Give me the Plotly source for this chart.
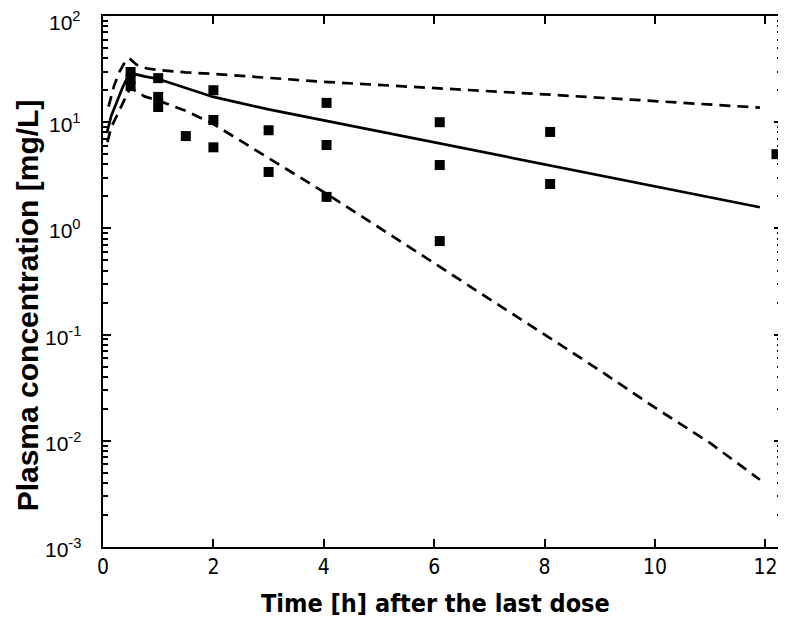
import math
import plotly.graph_objects as go

# Observed concentrations (squares)
t_obs = [0.5, 0.5, 0.5, 1, 1, 1, 1.5, 2, 2, 2, 3, 3, 4.05, 4.05, 4.05, 6.1, 6.1, 6.1, 8.1, 8.1, 12.2]
c_obs = [29.7, 25.4, 21.9, 26, 17.3, 13.9, 7.4, 20, 10.5, 5.8, 8.4, 3.4, 15.2, 6.1, 1.98, 10, 3.95, 0.76, 8.1, 2.62, 5.0]

# Median prediction (solid)
t_med = [0.07, 0.15, 0.25, 0.35, 0.45, 0.5, 0.75, 1, 2, 3, 4, 5, 6, 7, 8, 9, 10, 11, 11.9]
c_med = [7.9, 11.5, 15.5, 21, 27, 29, 27, 25.5, 17.3, 13.2, 10.4, 8.2, 6.4, 5.1, 4.0, 3.15, 2.5, 1.98, 1.58]

# Upper bound (dashed)
t_up = [0.1, 0.2, 0.3, 0.4, 0.48, 0.6, 0.8, 1, 1.5, 2, 4, 6, 8, 10, 11.9]
c_up = [14, 22, 30, 37, 40, 35, 32, 31, 29.5, 28.5, 24, 21, 18.3, 15.8, 13.7]

# Lower bound (dashed)
t_lo = [0.08, 0.15, 0.25, 0.35, 0.45, 0.5, 0.75, 1, 1.5, 2, 3, 4, 5, 6, 7, 8, 9, 10, 11, 11.9]
c_lo = [6.5, 9, 11.5, 15, 19, 21, 17.5, 16, 12.8, 9.6, 4.6, 2.2, 1.02, 0.47, 0.215, 0.098, 0.046, 0.0205, 0.0095, 0.0043]

x_tickvals = [0, 2, 4, 6, 8, 10, 12]
y_tickvals = [1e-3, 1e-2, 1e-1, 1, 10, 100]
y_ticktext = ["10<sup>-3</sup>", "10<sup>-2</sup>", "10<sup>-1</sup>", "10<sup>0</sup>", "10<sup>1</sup>", "10<sup>2</sup>"]

narrow = "DejaVu Sans Condensed, Liberation Sans Narrow, Arial Narrow, Arial"

fig = go.Figure()

dash_style = "11px,7px"
fig.add_trace(go.Scatter(x=t_up, y=c_up, mode="lines",
                         line=dict(color="black", width=2.7, dash=dash_style), showlegend=False))
fig.add_trace(go.Scatter(x=t_lo, y=c_lo, mode="lines",
                         line=dict(color="black", width=2.7, dash=dash_style), showlegend=False))
fig.add_trace(go.Scatter(x=t_med, y=c_med, mode="lines",
                         line=dict(color="black", width=2.7), showlegend=False))
fig.add_trace(go.Scatter(x=t_obs, y=c_obs, mode="markers",
                         marker=dict(symbol="square", size=10, color="black"),
                         showlegend=False, cliponaxis=False))

# page body has an 8px margin, so the figure is 8px smaller than the window
fig.update_layout(
    width=778, height=616,
    margin=dict(l=95, r=4, t=8, b=77),
    plot_bgcolor="white", paper_bgcolor="white",
    font=dict(family="Liberation Sans, Arial", color="black"),
)

fig.update_xaxes(
    range=[0, 12.3], tickvals=x_tickvals, automargin=False,
    ticks="inside", ticklen=8, tickwidth=1.5, tickcolor="black",
    showline=True, linecolor="black", linewidth=2, mirror="ticks",
    showgrid=False, zeroline=False,
    tickfont=dict(family=narrow, size=21),
)

fig.update_yaxes(
    type="log", range=[-3, 2], automargin=False,
    tickvals=y_tickvals, showticklabels=False,
    ticks="inside", ticklen=8, tickwidth=1.5, tickcolor="black",
    minor=dict(ticks="inside", ticklen=5, tickcolor="black", dtick="D1", showgrid=False),
    showline=True, linecolor="black", linewidth=2, mirror="ticks",
    showgrid=False, zeroline=False,
)

# y tick labels (placed by hand so they sit further from the axis)
for v, txt in zip(y_tickvals, y_ticktext):
    shift = -5 if v == y_tickvals[-1] else -1  # keep the top label inside the page
    fig.add_annotation(text=txt, xref="paper", yref="y", x=-0.03, y=math.log10(v),
                       xanchor="right", yanchor="middle", showarrow=False, yshift=shift,
                       font=dict(size=21))

# axis titles
fig.add_annotation(text="<b>Time [h] after the last dose</b>", xref="paper", yref="paper",
                   x=0.49, y=-0.107, xanchor="center", yanchor="middle", showarrow=False,
                   font=dict(family=narrow, size=25))
fig.add_annotation(text="<b>Plasma concentration [mg/L]</b>", xref="paper", yref="paper",
                   x=-0.112, y=0.455, xanchor="center", yanchor="middle", showarrow=False,
                   textangle=-90, font=dict(size=30))

fig.write_html("out.html")
